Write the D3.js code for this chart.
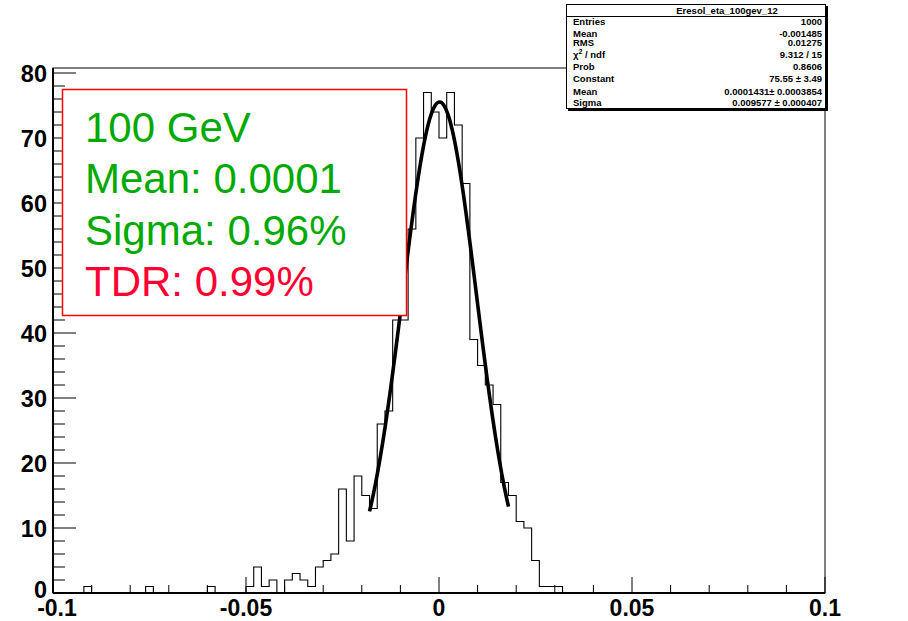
<!DOCTYPE html>
<html><head><meta charset="utf-8">
<script src="https://cdn.jsdelivr.net/npm/d3@7"></script>
<style>body{margin:0;background:#fff}svg{display:block}</style>
</head><body>
<svg id="c" width="908" height="621"></svg>
<script>
// ---- data ----
const xDomain = [-0.1, 0.1];
const binWidth = 0.002;
const counts = [
 0,0,0,0,1,0,0,0,0,0,
 0,0,1,0,0,0,0,0,0,0,
 1,0,0,0,0,1,4,1,2,0,
 2,3,2,1,4,5,6,16,8,18,
 15,13,26,28,42,42,56,70,77,74,
 70,77,72,63,39,35,32,29,17,15,
 11,10,5,1,1,1,0,0,0,0,
 0,0,0,0,0,0,0,0,0,0,
 0,0,0,0,0,0,0,0,0,0,
 0,0,0,0,0,0,0,0,0,0];
const xTickLabels = [-0.1, -0.05, 0, 0.05, 0.1];
const yTickLabels = [0,10,20,30,40,50,60,70,80];
const fitParams = {constant: 75.55, mean: 0.0001431, sigma: 0.009577};
const fitRange = [-0.018, 0.018];
const statsTitle = "Eresol_eta_100gev_12";
const statsLabels = ["Entries","Mean","RMS","CHI","Prob","Constant","Mean","Sigma"];
const statsValues = ["1000","-0.001485","0.01275","9.312 / 15","0.8606","75.55 \u00b1 3.49","0.0001431\u00b1 0.0003854","0.009577 \u00b1 0.000407"];
const boxLines = ["100 GeV","Mean: 0.0001","Sigma: 0.96%","TDR: 0.99%"];
const boxColors = ["#00aa00","#00aa00","#00aa00","#ff0033"];

// ---- drawing ----
const svg = d3.select("#c");
svg.append("rect").attr("width",908).attr("height",621).attr("fill","#fff");
const L=53, R=825, T=68, B=593;
const x = d3.scaleLinear().domain(xDomain).range([L,R]);
const y = d3.scaleLinear().domain([0,80.77]).range([B,T]);
const font = "'Liberation Sans', Arial, Helvetica, sans-serif";

// histogram step path
const pts = [[x(xDomain[0]), y(0)]];
counts.forEach((c,i)=>{
  const x0 = xDomain[0]+i*binWidth, x1 = x0+binWidth;
  pts.push([x(x0), y(c)]); pts.push([x(x1), y(c)]);
});
pts.push([x(xDomain[1]), y(0)]);
svg.append("path").attr("d", d3.line()(pts)).attr("fill","none")
  .attr("stroke","#000").attr("stroke-width",1.1);

// fit curve
const fx = d3.range(fitRange[0], fitRange[1]+1e-9, 0.0005);
const g = v => fitParams.constant*Math.exp(-0.5*Math.pow((v-fitParams.mean)/fitParams.sigma,2));
svg.append("path").attr("d", d3.line().x(d=>x(d)).y(d=>y(g(d))).curve(d3.curveMonotoneX)(fx))
  .attr("fill","none").attr("stroke","#000").attr("stroke-width",3.6);

// frame
svg.append("rect").attr("x",L).attr("y",T).attr("width",R-L).attr("height",B-T)
  .attr("fill","none").attr("stroke","#000").attr("stroke-width",1);
svg.append("line").attr("x1",L).attr("x2",R).attr("y1",B).attr("y2",B).attr("stroke","#000").attr("stroke-width",2);
svg.append("line").attr("x1",L).attr("x2",L).attr("y1",T).attr("y2",B).attr("stroke","#000").attr("stroke-width",2);

// x axis ticks
const xAx = svg.append("g");
d3.range(-0.1, 0.1001, 0.01).forEach(v=>{
  const major = Math.abs(Math.round(v*100)%5)===0;
  xAx.append("line").attr("x1",x(v)).attr("x2",x(v)).attr("y1",B).attr("y2",B-(major?16:8))
    .attr("stroke","#000").attr("stroke-width",1);
});
xTickLabels.forEach(v=>{
  xAx.append("text").attr("x",x(v)+(v===-0.1?4:0)).attr("y",615.5).attr("text-anchor","middle")
    .attr("font-family",font).attr("font-weight","bold").attr("font-size",23)
    .text(v===0?"0":String(v));
});
// y axis ticks
const yAx = svg.append("g");
d3.range(0, 81, 2).forEach(v=>{
  const major = v%10===0;
  yAx.append("line").attr("x1",L).attr("x2",L+(major?23:12)).attr("y1",y(v)).attr("y2",y(v))
    .attr("stroke","#000").attr("stroke-width",1);
});
yTickLabels.forEach(v=>{
  yAx.append("text").attr("x",47).attr("y",y(v)+ (v===0?5:8.5)).attr("text-anchor","end")
    .attr("font-family",font).attr("font-weight","bold").attr("font-size",23.5).text(v);
});

// red text box
svg.append("rect").attr("x",62.5).attr("y",89.5).attr("width",344).attr("height",226)
  .attr("fill","#fff").attr("stroke","#ff0000").attr("stroke-width",1.5);
boxLines.forEach((t,i)=>{
  svg.append("text").attr("x",85).attr("y",142+i*51.3).attr("fill",boxColors[i])
    .attr("font-family",font).attr("font-size",42).text(t);
});

// stats box
const sb = svg.append("g");
sb.append("rect").attr("x",568).attr("y",6).attr("width",260).attr("height",105).attr("fill","#000");
sb.append("rect").attr("x",566.5).attr("y",4.5).attr("width",259).attr("height",104)
  .attr("fill","#fff").attr("stroke","#000").attr("stroke-width",1);
sb.append("line").attr("x1",566.5).attr("x2",825.5).attr("y1",16.5).attr("y2",16.5).attr("stroke","#000");
sb.append("text").attr("x",727).attr("y",14).attr("text-anchor","middle")
  .attr("font-family",font).attr("font-weight","bold").attr("font-size",9.5).text(statsTitle);
const rowY = [25,36.5,46,58,70,82,95,106];
statsLabels.forEach((l,i)=>{
  const t = sb.append("text").attr("x",573).attr("y",rowY[i])
    .attr("font-family",font).attr("font-weight","bold").attr("font-size",9.5);
  if(l==="CHI"){
    t.append("tspan").text("\u03c7");
    t.append("tspan").attr("dy",-4).attr("font-size",7).text("2");
    t.append("tspan").attr("dy",4).text(" / ndf");
  } else t.text(l);
  sb.append("text").attr("x",822).attr("y",rowY[i]).attr("text-anchor","end")
    .attr("font-family",font).attr("font-weight","bold").attr("font-size",9.5).text(statsValues[i]);
});
</script>
</body></html>
